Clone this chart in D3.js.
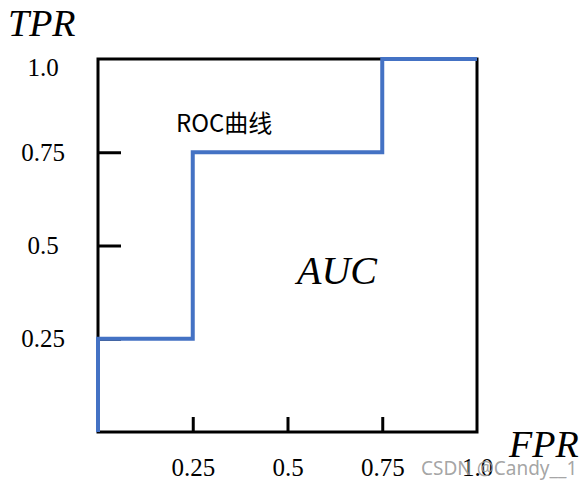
<!DOCTYPE html>
<html lang="zh">
<head>
<meta charset="UTF-8">
<title>ROC AUC</title>
<script src="https://cdn.jsdelivr.net/npm/d3@7"></script>
<style>
  body { margin: 0; background: #fff; }
  .serif { font-family: "Liberation Serif", "DejaVu Serif", serif; }
</style>
</head>
<body>
<div id="chart"></div>
<script>
  // step points of the ROC curve
  var fpr = [0, 0, 0.25, 0.25, 0.75, 0.75, 1.0];
  var tpr = [0, 0.25, 0.25, 0.75, 0.75, 1.0, 1.0];
  var xTicks = [0.25, 0.5, 0.75, 1.0];
  var yTicks = [0.25, 0.5, 0.75, 1.0];
  var tickLabel = function (d) { return d === 1 ? "1.0" : String(d); };

  var w = 588, h = 488;
  var padLeft = 98, padRight = 477, padTop = 59, padBottom = 432;

  var svg = d3.select('#chart').append('svg')
    .attr('width', w)
    .attr('height', h);

  var xScale = d3.scaleLinear().domain([0, 1]).range([padLeft, padRight]);
  var yScale = d3.scaleLinear().domain([0, 1]).range([padBottom, padTop]);

  // frame
  svg.append('rect')
    .attr('x', xScale(0)).attr('y', yScale(1))
    .attr('width', xScale(1) - xScale(0)).attr('height', yScale(0) - yScale(1))
    .attr('fill', 'none').attr('stroke', '#000').attr('stroke-width', 3);

  var yAxis = d3.axisLeft(yScale).tickValues(yTicks).tickSize(-23).tickFormat(tickLabel);
  var xAxis = d3.axisBottom(xScale).tickValues(xTicks).tickSize(-15).tickFormat(tickLabel);

  var gy = svg.append('g')
    .attr('class', 'y axis serif')
    .attr('transform', 'translate(' + padLeft + ',0)')
    .call(yAxis);
  var gx = svg.append('g')
    .attr('class', 'x axis serif')
    .attr('transform', 'translate(0,' + padBottom + ')')
    .call(xAxis);

  [gx, gy].forEach(function (g) {
    g.select('.domain').remove();
    g.selectAll('line').attr('stroke', '#000').attr('stroke-width', 3);
    g.selectAll('text')
      .attr('font-family', '"Liberation Serif", serif')
      .attr('font-size', 25)
      .attr('fill', '#000');
  });
  gy.selectAll('text')
    .attr('text-anchor', 'middle')
    .attr('x', -55)
    .attr('dy', function (d) { return d === 1 ? '0.65em' : '0.32em'; });
  gy.selectAll('.tick').filter(function (d) { return d === 1; }).select('line').remove();
  gx.selectAll('text').attr('y', 26).attr('dy', '0.71em');
  gx.selectAll('.tick').filter(function (d) { return d === 1; }).select('line').remove();

  // ROC curve
  var pts = fpr.map(function (d, i) { return [d, tpr[i]]; });
  svg.append('path')
    .datum(pts)
    .attr('d', d3.line().x(function (d) { return xScale(d[0]); }).y(function (d) { return yScale(d[1]); }))
    .attr('fill', 'none')
    .attr('stroke', '#4472C4')
    .attr('stroke-width', 4)
    .attr('stroke-linejoin', 'miter');

  // labels
  svg.append('text').attr('class', 'serif')
    .attr('x', 8).attr('y', 36)
    .attr('font-size', 38).attr('font-style', 'italic')
    .text('TPR');
  svg.append('text').attr('class', 'serif')
    .attr('x', 509).attr('y', 457)
    .attr('font-size', 38).attr('font-style', 'italic')
    .text('FPR');
  svg.append('text').attr('class', 'serif')
    .attr('x', 297).attr('y', 284)
    .attr('font-size', 40).attr('font-style', 'italic')
    .text('AUC');
  svg.append('text')
    .attr('x', 176).attr('y', 132)
    .attr('font-family', '"Noto Sans CJK SC", "Noto Sans", sans-serif')
    .attr('font-size', 24)
    .text('ROC曲线');

  // watermark
  svg.append('text')
    .attr('x', 421).attr('y', 475)
    .attr('font-family', '"Noto Sans", "DejaVu Sans", sans-serif')
    .attr('font-size', 19)
    .attr('fill', '#9a9a9a')
    .attr('fill-opacity', 0.9)
    .text('CSDN @Candy__1');
</script>
</body>
</html>
